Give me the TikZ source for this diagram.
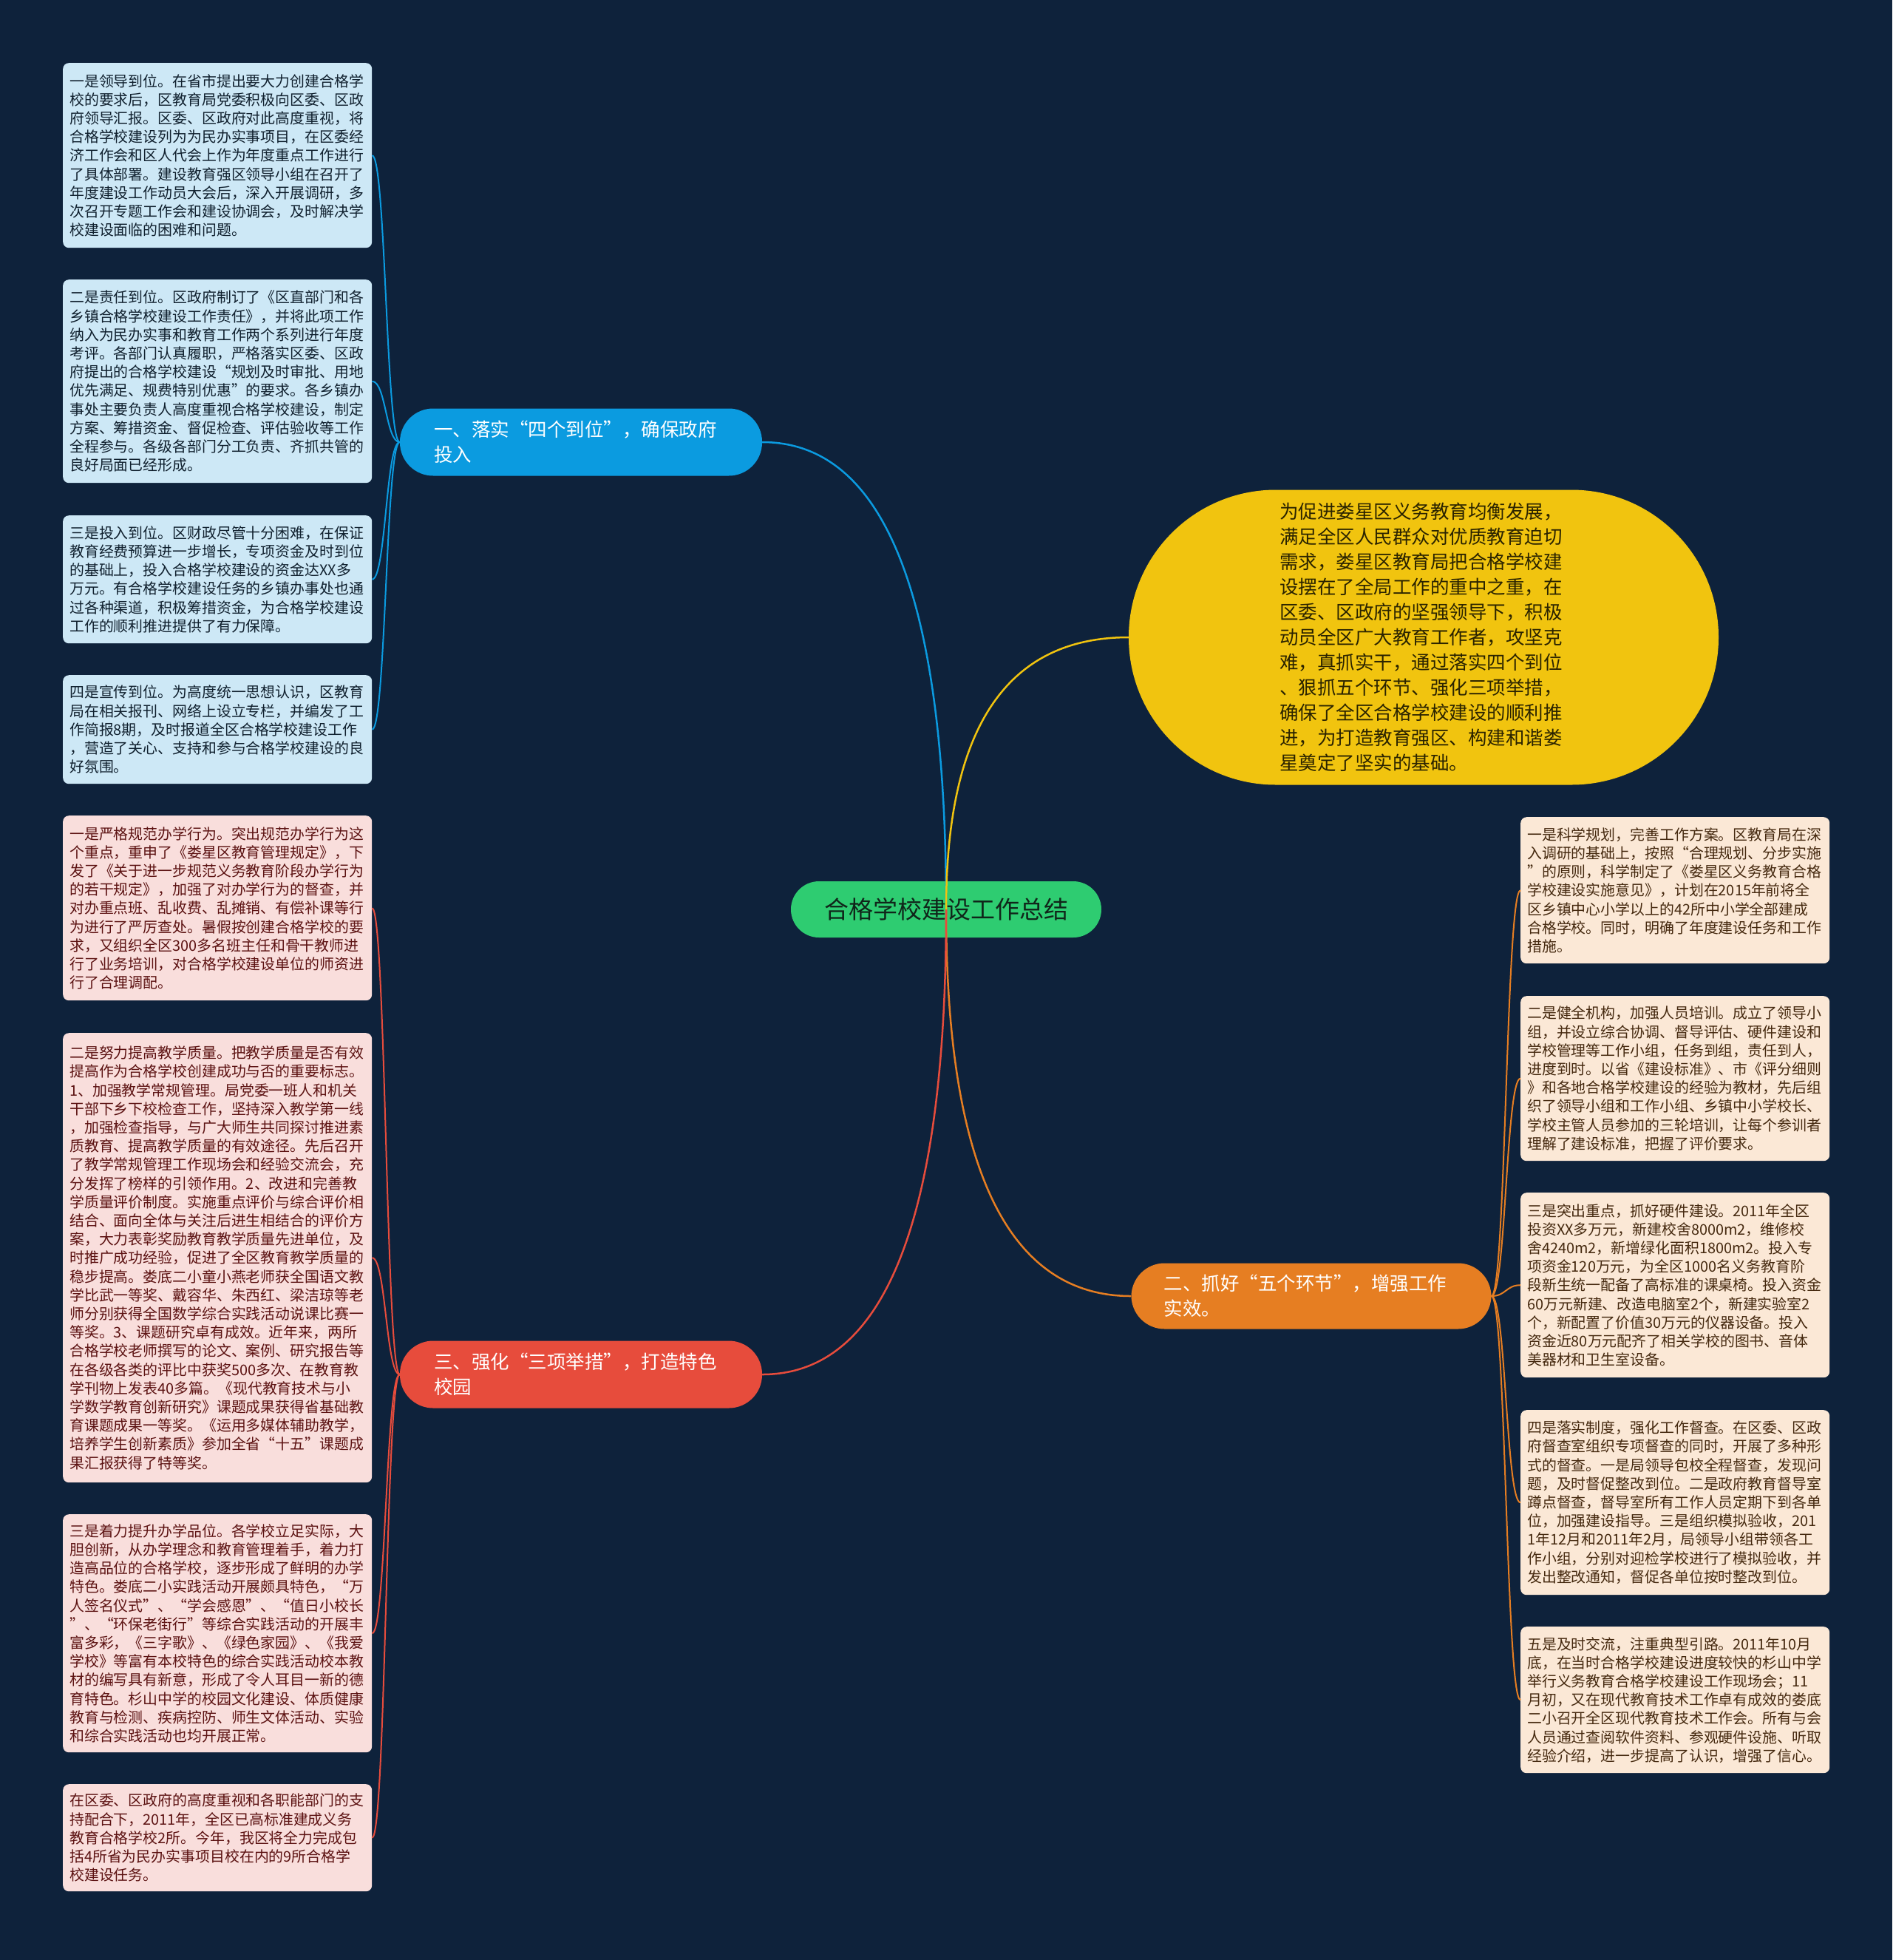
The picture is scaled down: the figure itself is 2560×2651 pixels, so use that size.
\documentclass[tikz,border=0pt]{standalone}
\usepackage{fontspec}
\setmainfont{Noto Sans CJK SC}
\usetikzlibrary{calc}
\definecolor{bg}{HTML}{0E223B}
\definecolor{cblue}{HTML}{0B9BE0}
\definecolor{cyellow}{HTML}{F1C40F}
\definecolor{corange}{HTML}{E67E22}
\definecolor{cred}{HTML}{E74C3C}
\definecolor{cgreen}{HTML}{2ECC71}
\definecolor{lblue}{HTML}{CDE8F6}
\definecolor{tblue}{HTML}{10202E}
\definecolor{lpink}{HTML}{F9DEDC}
\definecolor{tpink}{HTML}{5C1212}
\definecolor{lpeach}{HTML}{FBE8D6}
\definecolor{tpeach}{HTML}{45290F}
\definecolor{tdark}{HTML}{2A2300}
\definecolor{tgreen}{HTML}{10261A}
\tikzset{
  leafbox/.style={rounded corners=8pt, anchor=north west, text width=400pt,
    inner xsep=9pt, inner ysep=0pt, align=left,
    font=\fontsize{19.9}{25.2}\selectfont},
  blueleaf/.style={leafbox, fill=lblue, text=tblue},
  pinkleaf/.style={leafbox, fill=lpink, text=tpink},
  peachleaf/.style={leafbox, fill=lpeach, text=tpeach},
  branch/.style={rounded corners=45pt, minimum height=91pt, align=left,
    inner ysep=0pt, font=\fontsize{25.5}{34}\selectfont},
  mainline/.style={line width=2.5pt},
  subline/.style={line width=2pt},
}
\begin{document}
\begin{tikzpicture}[x=1pt,y=-1pt]
\fill[bg] (0,0) rectangle (2560,2651);
\useasboundingbox (0,0) rectangle (2560,2651);

% ---- left blue leaves
\node[blueleaf, minimum height=250pt] (L1) at (85,85) {一是领导到位。在省市提出要大力创建合格学\\校的要求后，区教育局党委积极向区委、区政\\府领导汇报。区委、区政府对此高度重视，将\\合格学校建设列为为民办实事项目，在区委经\\济工作会和区人代会上作为年度重点工作进行\\了具体部署。建设教育强区领导小组在召开了\\年度建设工作动员大会后，深入开展调研，多\\次召开专题工作会和建设协调会，及时解决学\\校建设面临的困难和问题。};
\node[blueleaf, minimum height=275pt] (L2) at (85,378) {二是责任到位。区政府制订了《区直部门和各\\乡镇合格学校建设工作责任》，并将此项工作\\纳入为民办实事和教育工作两个系列进行年度\\考评。各部门认真履职，严格落实区委、区政\\府提出的合格学校建设“规划及时审批、用地\\优先满足、规费特别优惠”的要求。各乡镇办\\事处主要负责人高度重视合格学校建设，制定\\方案、筹措资金、督促检查、评估验收等工作\\全程参与。各级各部门分工负责、齐抓共管的\\良好局面已经形成。};
\node[blueleaf, minimum height=173pt] (L3) at (85,697) {三是投入到位。区财政尽管十分困难，在保证\\教育经费预算进一步增长，专项资金及时到位\\的基础上，投入合格学校建设的资金达XX多\\万元。有合格学校建设任务的乡镇办事处也通\\过各种渠道，积极筹措资金，为合格学校建设\\工作的顺利推进提供了有力保障。};
\node[blueleaf, minimum height=147pt] (L4) at (85,913) {四是宣传到位。为高度统一思想认识，区教育\\局在相关报刊、网络上设立专栏，并编发了工\\作简报8期，及时报道全区合格学校建设工作\\，营造了关心、支持和参与合格学校建设的良\\好氛围。};

% ---- left pink leaves
\node[pinkleaf, minimum height=250pt] (P1) at (85,1103) {一是严格规范办学行为。突出规范办学行为这\\个重点，重申了《娄星区教育管理规定》，下\\发了《关于进一步规范义务教育阶段办学行为\\的若干规定》，加强了对办学行为的督查，并\\对办重点班、乱收费、乱摊销、有偿补课等行\\为进行了严厉查处。暑假按创建合格学校的要\\求，又组织全区300多名班主任和骨干教师进\\行了业务培训，对合格学校建设单位的师资进\\行了合理调配。};
\node[pinkleaf, minimum height=608pt] (P2) at (85,1397) {二是努力提高教学质量。把教学质量是否有效\\提高作为合格学校创建成功与否的重要标志。\\1、加强教学常规管理。局党委一班人和机关\\干部下乡下校检查工作，坚持深入教学第一线\\，加强检查指导，与广大师生共同探讨推进素\\质教育、提高教学质量的有效途径。先后召开\\了教学常规管理工作现场会和经验交流会，充\\分发挥了榜样的引领作用。2、改进和完善教\\学质量评价制度。实施重点评价与综合评价相\\结合、面向全体与关注后进生相结合的评价方\\案，大力表彰奖励教育教学质量先进单位，及\\时推广成功经验，促进了全区教育教学质量的\\稳步提高。娄底二小童小燕老师获全国语文教\\学比武一等奖、戴容华、朱西红、梁洁琼等老\\师分别获得全国数学综合实践活动说课比赛一\\等奖。3、课题研究卓有成效。近年来，两所\\合格学校老师撰写的论文、案例、研究报告等\\在各级各类的评比中获奖500多次、在教育教\\学刊物上发表40多篇。《现代教育技术与小\\学数学教育创新研究》课题成果获得省基础教\\育课题成果一等奖。《运用多媒体辅助教学，\\培养学生创新素质》参加全省“十五”课题成\\果汇报获得了特等奖。};
\node[pinkleaf, minimum height=322pt] (P3) at (85,2048) {三是着力提升办学品位。各学校立足实际，大\\胆创新，从办学理念和教育管理着手，着力打\\造高品位的合格学校，逐步形成了鲜明的办学\\特色。娄底二小实践活动开展颇具特色，“万\\人签名仪式”、“学会感恩”、“值日小校长\\”、“环保老街行”等综合实践活动的开展丰\\富多彩，《三字歌》、《绿色家园》、《我爱\\学校》等富有本校特色的综合实践活动校本教\\材的编写具有新意，形成了令人耳目一新的德\\育特色。杉山中学的校园文化建设、体质健康\\教育与检测、疾病控防、师生文体活动、实验\\和综合实践活动也均开展正常。};
\node[pinkleaf, minimum height=145pt] (P4) at (85,2413) {在区委、区政府的高度重视和各职能部门的支\\持配合下，2011年，全区已高标准建成义务\\教育合格学校2所。今年，我区将全力完成包\\括4所省为民办实事项目校在内的9所合格学\\校建设任务。};

% ---- right peach leaves
\node[peachleaf, minimum height=198pt] (R1) at (2057,1105) {一是科学规划，完善工作方案。区教育局在深\\入调研的基础上，按照“合理规划、分步实施\\”的原则，科学制定了《娄星区义务教育合格\\学校建设实施意见》，计划在2015年前将全\\区乡镇中心小学以上的42所中小学全部建成\\合格学校。同时，明确了年度建设任务和工作\\措施。};
\node[peachleaf, minimum height=223pt] (R2) at (2057,1347) {二是健全机构，加强人员培训。成立了领导小\\组，并设立综合协调、督导评估、硬件建设和\\学校管理等工作小组，任务到组，责任到人，\\进度到时。以省《建设标准》、市《评分细则\\》和各地合格学校建设的经验为教材，先后组\\织了领导小组和工作小组、乡镇中小学校长、\\学校主管人员参加的三轮培训，让每个参训者\\理解了建设标准，把握了评价要求。};
\node[peachleaf, minimum height=250pt] (R3) at (2057,1613) {三是突出重点，抓好硬件建设。2011年全区\\投资XX多万元，新建校舍8000m2，维修校\\舍4240m2，新增绿化面积1800m2。投入专\\项资金120万元，为全区1000名义务教育阶\\段新生统一配备了高标准的课桌椅。投入资金\\60万元新建、改造电脑室2个，新建实验室2\\个，新配置了价值30万元的仪器设备。投入\\资金近80万元配齐了相关学校的图书、音体\\美器材和卫生室设备。};
\node[peachleaf, minimum height=250pt] (R4) at (2057,1907) {四是落实制度，强化工作督查。在区委、区政\\府督查室组织专项督查的同时，开展了多种形\\式的督查。一是局领导包校全程督查，发现问\\题，及时督促整改到位。二是政府教育督导室\\蹲点督查，督导室所有工作人员定期下到各单\\位，加强建设指导。三是组织模拟验收，201\\1年12月和2011年2月，局领导小组带领各工\\作小组，分别对迎检学校进行了模拟验收，并\\发出整改通知，督促各单位按时整改到位。};
\node[peachleaf, minimum height=198pt] (R5) at (2057,2200) {五是及时交流，注重典型引路。2011年10月\\底，在当时合格学校建设进度较快的杉山中学\\举行义务教育合格学校建设工作现场会；11\\月初，又在现代教育技术工作卓有成效的娄底\\二小召开全区现代教育技术工作会。所有与会\\人员通过查阅软件资料、参观硬件设施、听取\\经验介绍，进一步提高了认识，增强了信心。};

% ---- branches
\node[branch, fill=cblue, text=white, text width=398pt, inner xsep=46pt] (B1) at (786,598) {一、落实“四个到位”，确保政府\\投入};
\node[branch, fill=cred, text=white, text width=398pt, inner xsep=46pt] (B3) at (786,1859) {三、强化“三项举措”，打造特色\\校园};
\node[branch, fill=corange, text=white, text width=399pt, inner xsep=44pt, minimum height=89pt] (B2) at (1774,1753) {二、抓好“五个环节”，增强工作\\实效。};
\node[branch, fill=cyellow, text=tdark, text width=390pt, inner xsep=204pt, minimum height=399pt, rounded corners=199pt] (Y) at (1926,862) {为促进娄星区义务教育均衡发展，\\满足全区人民群众对优质教育迫切\\需求，娄星区教育局把合格学校建\\设摆在了全局工作的重中之重，在\\区委、区政府的坚强领导下，积极\\动员全区广大教育工作者，攻坚克\\难，真抓实干，通过落实四个到位\\、狠抓五个环节、强化三项举措，\\确保了全区合格学校建设的顺利推\\进，为打造教育强区、构建和谐娄\\星奠定了坚实的基础。};

% ---- center
\node[fill=cgreen, text=tgreen, rounded corners=38pt, minimum width=420pt, minimum height=76pt, inner sep=0pt, font=\fontsize{33}{40}\selectfont] (C) at (1280,1230) {合格学校建设工作总结};

% ---- main connectors
\draw[mainline, cblue] (C.center) .. controls ($(C.center)!0.667!(C.center |- B1.east)$) and ($(B1.east)!0.667!(C.center |- B1.east)$) .. (B1.east);
\draw[mainline, cyellow] (C.center) .. controls ($(C.center)!0.667!(C.center |- Y.west)$) and ($(Y.west)!0.667!(C.center |- Y.west)$) .. (Y.west);
\draw[mainline, corange] (C.center) .. controls ($(C.center)!0.667!(C.center |- B2.west)$) and ($(B2.west)!0.667!(C.center |- B2.west)$) .. (B2.west);
\draw[mainline, cred] (C.center) .. controls ($(C.center)!0.667!(C.center |- B3.east)$) and ($(B3.east)!0.667!(C.center |- B3.east)$) .. (B3.east);

% ---- sub connectors
\foreach \t in {L1,L2,L3,L4}{
  \draw[subline, cblue] (B1.west) .. controls ($(B1.west)!0.5!(B1.west -| \t.east)$) and ($(\t.east)!0.5!(\t.east -| B1.west)$) .. (\t.east);
}
\foreach \t in {P1,P2,P3,P4}{
  \draw[subline, cred] (B3.west) .. controls ($(B3.west)!0.5!(B3.west -| \t.east)$) and ($(\t.east)!0.5!(\t.east -| B3.west)$) .. (\t.east);
}
\foreach \t in {R1,R2,R3,R4,R5}{
  \draw[subline, corange] (B2.east) .. controls ($(B2.east)!0.5!(B2.east -| \t.west)$) and ($(\t.west)!0.5!(\t.west -| B2.east)$) .. (\t.west);
}
\end{tikzpicture}
\end{document}
